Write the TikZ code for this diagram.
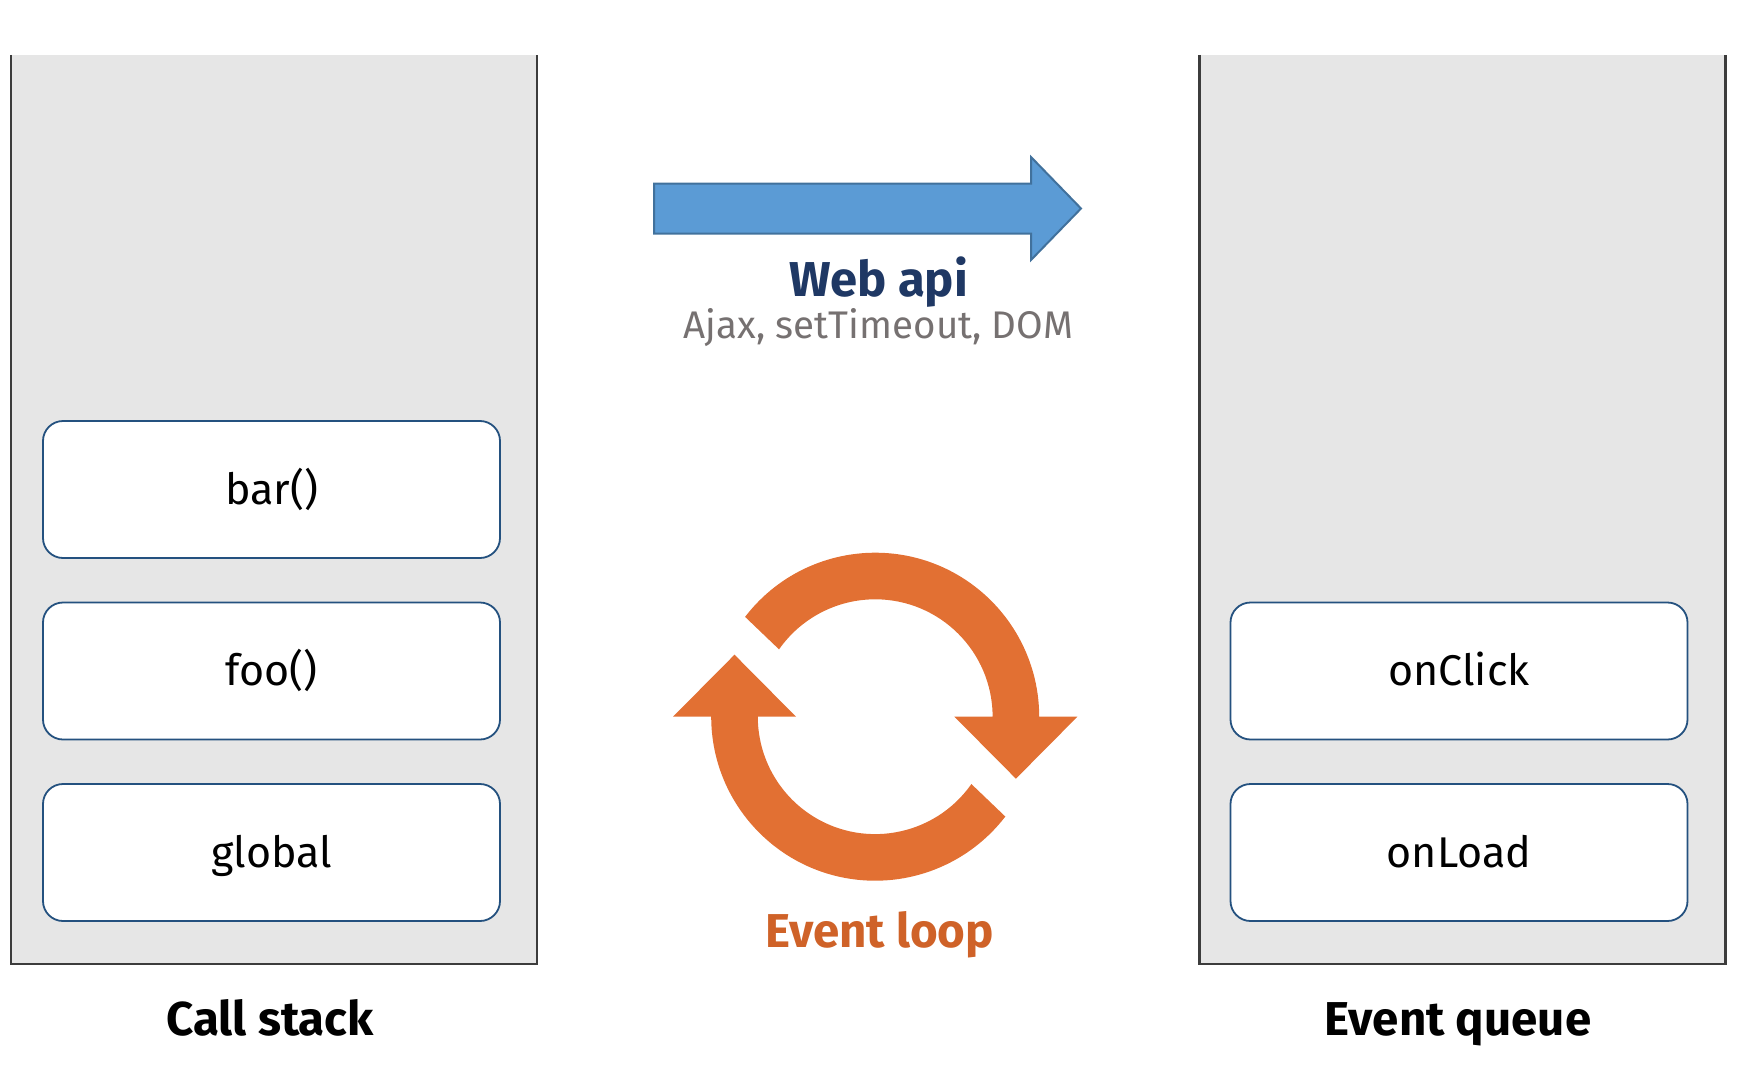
\documentclass[tikz,border=0pt]{standalone}
\usepackage{fontspec}
\setmainfont{Fira Sans}
\usetikzlibrary{calc}
\definecolor{panelgray}{HTML}{E6E6E6}
\definecolor{paneledge}{HTML}{3C3C3C}
\definecolor{boxedge}{HTML}{24517F}
\definecolor{apiblue}{HTML}{5B9BD5}
\definecolor{apiedge}{HTML}{41719C}
\definecolor{apitext}{HTML}{1F3864}
\definecolor{apigray}{HTML}{767171}
\definecolor{loopfill}{HTML}{E27033}
\definecolor{looptext}{HTML}{CF6228}

\begin{document}
\begin{tikzpicture}
  [x=1pt,y=1pt,
   panel/.style={fill=panelgray,minimum width=526pt,minimum height=909pt,inner sep=0pt},
   frame/.style={draw=boxedge,line width=1.8pt,fill=white,rounded corners=20pt,
     minimum width=457pt,minimum height=137pt,inner sep=0pt,
     font=\fontsize{43}{51}\selectfont,text height=29pt,text depth=0pt},
   title/.style={font=\fontsize{47.5}{57}\selectfont\bfseries,anchor=base}]
  \useasboundingbox (0,0) rectangle (1737,-1070);

  \node[panel] (stack) at (274,-509.5) {};
  \node[panel] (queue) at (1462.5,-509.5) {};
  \foreach \p in {stack,queue}
    \draw[paneledge,line width=2.5pt] (\p.north west) -- (\p.south west)
      -- (\p.south east) -- (\p.north east);

  \node[frame] (bar) at (271.5,-489.5) {bar()};
  \node[frame] (foo) at (271.5,-671) {foo()};
  \node[frame] (global) at (271.5,-852.5) {global};
  \node[frame] (click) at (1459,-671) {onClick};
  \node[frame] (load) at (1459,-852.5) {onLoad};

  \node[title] (stacklbl) at (270,-1035) {Call stack};
  \node[title] (queuelbl) at (1458,-1035) {Event queue};

  \draw[apiedge,fill=apiblue,line width=2pt] (654,-183.5) -- (1031,-183.5) -- (1031,-157)
    -- (1081,-208.5) -- (1031,-260) -- (1031,-233.5) -- (654,-233.5) -- cycle;
  \node[title,text=apitext,font=\fontsize{49}{58}\selectfont\bfseries] (api) at (878.5,-296) {Web api};
  \node[anchor=base,text=apigray,font=\fontsize{38.5}{46}\selectfont] (apis) at (878.5,-338)
    {Ajax, setTimeout, DOM};

  \coordinate (loop) at (875.2,-716.7);
  \fill[loopfill] ($(loop)+(142.5:164)$) arc[start angle=142.5,end angle=0,radius=164]
    -- ++(38.2,0) -- ++(-61.5,-62) -- ++(-61.5,62) -- ++(38.2,0)
    arc[start angle=0,end angle=145,radius=117.4] -- cycle;
  \fill[loopfill] ($(loop)+(180:164)$) arc[start angle=180,end angle=322.5,radius=164]
    -- ($(loop)+(325:117.4)$) arc[start angle=325,end angle=180,radius=117.4]
    -- ++(38.2,0) -- ++(-61.5,62) -- ++(-61.5,-62) -- cycle;
  \node[title,text=looptext] (looplbl) at (879.5,-947) {Event loop};

\end{tikzpicture}
\end{document}
